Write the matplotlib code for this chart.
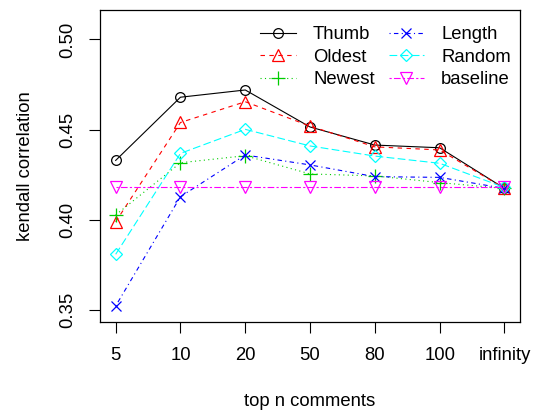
import matplotlib
matplotlib.use("Agg")
import matplotlib.pyplot as plt

plt.rcParams["font.family"] = ["Liberation Sans", "DejaVu Sans"]

# x categories
ticks = ["5", "10", "20", "50", "80", "100", "infinity"]

# kendall correlation per method
thumb = [0.433, 0.468, 0.472, 0.4515, 0.4415, 0.440, 0.4175]
oldest = [0.399, 0.454, 0.4655, 0.452, 0.4405, 0.4388, 0.4175]
newest = [0.4028, 0.4317, 0.4356, 0.4255, 0.4244, 0.4207, 0.4175]
length = [0.3524, 0.4129, 0.436, 0.4305, 0.424, 0.4236, 0.4175]
random_ = [0.381, 0.4369, 0.4502, 0.441, 0.4354, 0.4314, 0.418]
baseline = [0.418, 0.418, 0.418, 0.418, 0.418, 0.418, 0.418]

series = [
    ("Thumb", thumb, "black", "o", (None, None)),
    ("Oldest", oldest, "red", "^", (4, 4)),
    ("Newest", newest, "#00CD00", "+", (1, 3)),
    ("Length", length, "blue", "x", (1, 3, 4, 3)),
    ("Random", random_, "cyan", "D", (7, 3)),
    ("baseline", baseline, "magenta", "v", (2, 2, 6, 2)),
]

fs = 13.3
fig = plt.figure(figsize=(5.36, 4.12), dpi=100)
ax = fig.add_axes([100 / 536, 90 / 412, 420 / 536, 312 / 412])

x = list(range(1, len(ticks) + 1))
for name, vals, col, mk, dash in series:
    ms = {"o": 7, "^": 8.5, "+": 9.5, "x": 7.5, "D": 6.5, "v": 8.5}[mk]
    line, = ax.plot(x, vals, color=col, lw=0.8, marker=mk, ms=ms,
                    mfc="none", mec=col, mew=0.9, label=name)
    if dash[0] is not None:
        line.set_dashes(dash)

ax.set_xlim(0.758, 7.24)
ax.set_ylim(0.3435, 0.5163)
ax.set_xticks(x)
ax.set_xticklabels(ticks)
ax.set_yticks([0.35, 0.40, 0.45, 0.50])
ax.set_yticklabels(["0.35", "0.40", "0.45", "0.50"], rotation=90, va="center")
ax.tick_params(direction="out", length=8, width=0.8, labelsize=fs)
ax.tick_params(axis="x", pad=10)
ax.tick_params(axis="y", pad=9)
for s in ax.spines.values():
    s.set_linewidth(0.9)

ax.set_xlabel("top n comments", fontsize=fs, labelpad=21)
ax.set_ylabel("kendall correlation", fontsize=fs, labelpad=18)

ax.legend(ncol=2, frameon=False, fontsize=fs, loc="upper right",
          bbox_to_anchor=(511 / 536, 1 - 26 / 412), bbox_transform=fig.transFigure,
          borderpad=0, borderaxespad=0, handlelength=1.9, handletextpad=0.95,
          columnspacing=0.75, labelspacing=0.3)

fig.savefig("out.png", dpi=100)
